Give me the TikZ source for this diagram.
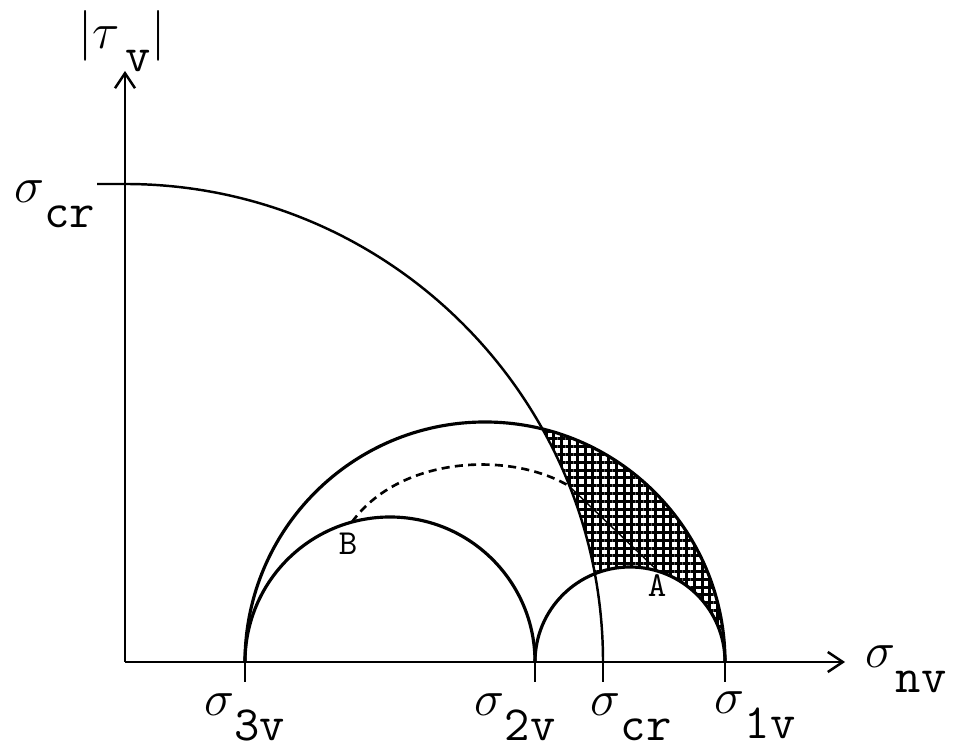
\documentclass[tikz,border=0pt]{standalone}
\usepackage{amsmath}
\usetikzlibrary{arrows.meta, patterns.meta}

\newcommand{\sgm}[1]{$\sigma$\raisebox{-0.5em}{\texttt{#1}}}

\begin{document}
\begin{tikzpicture}[>={Straight Barb[length=1.5mm,width=2mm]},
    axis/.style={->, line width=0.7pt},
    mohr/.style={line width=0.9pt},
    lbl/.style={inner sep=0pt, anchor=base, font=\fontsize{14}{16}\selectfont},
    ptlabel/.style={inner sep=0pt, font=\fontsize{10}{12}\selectfont\ttfamily},
    hatch/.style={pattern={Hatch[angle=0,distance=0.78mm,line width=0.3mm]}},
    path/.style={line width=0.75pt, dash pattern=on 2.3pt off 1.5pt}
  ]
  \useasboundingbox (0,0) rectangle (9.56,7.51);

  % axes
  \coordinate (O) at (1.25,0.89);
  \coordinate (xend) at (8.45,0.89);
  \coordinate (yend) at (1.25,6.80);
  \draw[axis] (O) -- (xend);
  \draw[axis] (O) -- (yend);

  % failure region
  \fill[hatch] (O) ++(29.18:4.78) arc[start angle=29.18, end angle=10.64, radius=4.78]
    arc[start angle=111.75, end angle=0, radius=0.95]
    arc[start angle=0, end angle=76.18, radius=2.40] -- cycle;

  % criterion circle
  \draw[line width=0.7pt] (0.97,5.67) -- (1.25,5.67) arc[start angle=90, end angle=0, radius=4.78];

  % Mohr circles
  \draw[mohr] (2.45,0.89) arc[start angle=180, end angle=0, radius=2.40];
  \draw[mohr] (2.45,0.89) arc[start angle=180, end angle=0, radius=1.45];
  \draw[mohr] (5.35,0.89) arc[start angle=180, end angle=0, radius=0.95];

  \foreach \x in {2.45,5.35,6.03,7.25}
    \draw[line width=0.7pt] (\x,0.89) -- (\x,0.69);

  % stress path
  \coordinate (B) at (3.52,2.29);
  \coordinate (C) at (5.69,2.65);
  \coordinate (A) at (6.59,1.79);
  \draw[path] (B) .. controls (4.0,2.95) and (5.1,3.0) .. (C);
  \draw[line width=0.4pt] (C) -- (A);

  \node[ptlabel] (Blbl) at (3.48,2.07) {B};
  \node[ptlabel] (Albl) at (6.57,1.65) {A};

  % labels
  \node[lbl] (tau) at (1.22,7.02) {$|\tau$\hspace{0.12em}\raisebox{-0.45em}{\texttt{v}}$|$};
  \node[lbl] (crL) at (0.55,5.48) {\sgm{cr}};
  \node[lbl] (s3L) at (2.45,0.35) {\sgm{3v}};
  \node[lbl] (s2L) at (5.15,0.35) {\sgm{2v}};
  \node[lbl] (crB) at (6.31,0.35) {\sgm{cr}};
  \node[lbl] (s1L) at (7.55,0.37) {\sgm{1v}};
  \node[lbl] (nvL) at (9.06,0.83) {\sgm{nv}};
\end{tikzpicture}
\end{document}
